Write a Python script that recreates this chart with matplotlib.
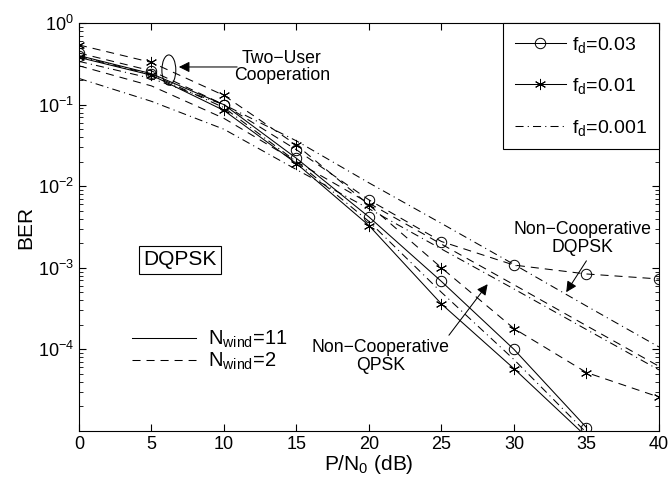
import numpy as np
import matplotlib
matplotlib.use("Agg")
import matplotlib.pyplot as plt
from matplotlib.lines import Line2D
from matplotlib.patches import Ellipse

plt.rcParams['font.family'] = ['Liberation Sans', 'DejaVu Sans']
plt.rcParams['mathtext.fontset'] = 'custom'
plt.rcParams['mathtext.rm'] = 'Liberation Sans'
plt.rcParams['mathtext.it'] = 'Liberation Sans'
plt.rcParams['lines.scale_dashes'] = False

# SNR grid (dB)
snr = [0, 5, 10, 15, 20, 25, 30, 35, 40]
snr_short = [0, 5, 10, 15, 20, 25, 30, 35]

# two-user cooperation, N_wind = 11 (solid)
ber_fd03_n11 = [0.40, 0.24, 0.10, 0.022, 4.2e-3, 6.8e-4, 1.0e-4, 1.1e-5]
ber_fd01_n11 = [0.38, 0.23, 0.085, 0.019, 3.3e-3, 3.6e-4, 5.8e-5, 8.5e-6]
ber_fd001_n11 = [0.39, 0.235, 0.092, 0.020, 3.7e-3, 5.0e-4, 7.5e-5, 9.5e-6]

# N_wind = 2 (dashed)
ber_fd03_n2 = [0.43, 0.26, 0.10, 0.028, 6.8e-3, 2.1e-3, 1.08e-3, 8.4e-4, 7.3e-4]
ber_fd01_n2 = [0.54, 0.33, 0.13, 0.032, 5.9e-3, 1.0e-3, 1.8e-4, 5.2e-5, 2.6e-5]
ber_fd001_n2 = [0.34, 0.21, 0.10, 0.036, 1.1e-2, 3.5e-3, 1.1e-3, 3.4e-4, 1.07e-4]

# non-cooperative
ber_nc_dqpsk = [0.30, 0.17, 0.068, 0.020, 6.2e-3, 1.95e-3, 6.2e-4, 1.95e-4, 6.2e-5]
ber_nc_qpsk = [0.21, 0.11, 0.050, 0.016, 5.3e-3, 1.7e-3, 5.5e-4, 1.75e-4, 5.6e-5]

dash = (5.8, 4.3)
dashdot = (5.8, 3.0, 0.8, 3.0)
star = (6, 2, 0)
lw = 0.75
ms_o = 7.5
ms_s = 8

fig = plt.figure(figsize=(6.69, 4.82), dpi=100)
ax = fig.add_axes([0.118, 0.106, 0.867, 0.846])

ax.plot(snr_short, ber_fd03_n11, 'k-', lw=lw, marker='o', mfc='none', ms=ms_o, mew=0.7)
ax.plot(snr_short, ber_fd01_n11, 'k-', lw=lw, marker=star, ms=ms_s, mew=0.7)
ax.plot(snr_short, ber_fd001_n11, 'k', lw=lw, dashes=dashdot)

ax.plot(snr, ber_fd03_n2, 'k', lw=lw, dashes=dash, marker='o', mfc='none', ms=ms_o, mew=0.7)
ax.plot(snr, ber_fd01_n2, 'k', lw=lw, dashes=dash, marker=star, ms=ms_s, mew=0.7)
ax.plot(snr, ber_fd001_n2, 'k', lw=lw, dashes=dashdot)

ax.plot(snr, ber_nc_dqpsk, 'k', lw=lw, dashes=dash)
ax.plot(snr, ber_nc_qpsk, 'k', lw=lw, dashes=dashdot)

ax.set_yscale('log')
ax.set_xlim(0, 40)
ax.set_ylim(1e-5, 1)
ax.set_xticks(range(0, 41, 5))
ax.set_yticks([1e-4, 1e-3, 1e-2, 1e-1, 1])
ax.tick_params(which='both', direction='in', top=True, right=True, labelsize=13)
ax.tick_params(which='major', length=5)
ax.tick_params(which='minor', length=3)
for s in ax.spines.values():
    s.set_linewidth(0.8)

ax.set_xlabel('P/N$_0$ (dB)', fontsize=15, labelpad=0)
ax.set_ylabel('BER', fontsize=15, labelpad=2)

# f_d legend
h_fd = [Line2D([], [], color='k', lw=lw, marker='o', mfc='none', ms=ms_o, mew=0.7),
        Line2D([], [], color='k', lw=lw, marker=star, ms=ms_s, mew=0.7),
        Line2D([], [], color='k', lw=lw, dashes=dashdot)]
leg1 = ax.legend(h_fd, ['f$_d$=0.03', 'f$_d$=0.01', 'f$_d$=0.001'],
                 loc='upper right', bbox_to_anchor=(1, 1), borderaxespad=0,
                 fontsize=14, handlelength=2.6, handletextpad=0.35,
                 labelspacing=1.1, borderpad=0.6, fancybox=False,
                 edgecolor='k', framealpha=1)
leg1.get_frame().set_linewidth(0.8)
ax.add_artist(leg1)

# N_wind legend
h_nw = [Line2D([], [], color='k', lw=lw),
        Line2D([], [], color='k', lw=lw, dashes=dash)]
ax.legend(h_nw, ['N$_{\\rm wind}$=11', 'N$_{\\rm wind}$=2'],
          loc='upper left', bbox_to_anchor=(0.06, 0.295), frameon=False,
          fontsize=14.5, handlelength=3.2, handletextpad=0.6, labelspacing=0.05)

# annotations
ax.add_patch(Ellipse((0.155, 0.885), 0.024, 0.074, transform=ax.transAxes,
                     fill=False, ec='k', lw=0.75))
ax.annotate('', xy=(6.7, 0.29), xytext=(11.1, 0.29),
            arrowprops=dict(arrowstyle='-|>', color='k', lw=0.75, mutation_scale=16))
ax.text(14.0, 0.29, 'Two\u2212User\nCooperation', ha='center', va='center',
        fontsize=12.7, linespacing=1.05)

ax.annotate('', xy=(33.5, 4.7e-4), xytext=(35.1, 1.3e-3),
            arrowprops=dict(arrowstyle='-|>', color='k', lw=0.75, mutation_scale=16))
ax.text(34.7, 2.3e-3, 'Non\u2212Cooperative\nDQPSK', ha='center', va='center',
        fontsize=12.7, linespacing=1.05)

ax.annotate('', xy=(28.3, 6.7e-4), xytext=(25.4, 1.4e-4),
            arrowprops=dict(arrowstyle='-|>', color='k', lw=0.75, mutation_scale=16))
ax.text(20.8, 8.1e-5, 'Non\u2212Cooperative\nQPSK', ha='center', va='center',
        fontsize=12.7, linespacing=1.05)

ax.text(6.97, 1.25e-3, 'DQPSK', ha='center', va='center', fontsize=15,
        bbox=dict(boxstyle='square,pad=0.2', fc='white', ec='k', lw=0.8))

fig.savefig('out.png', dpi=100)
